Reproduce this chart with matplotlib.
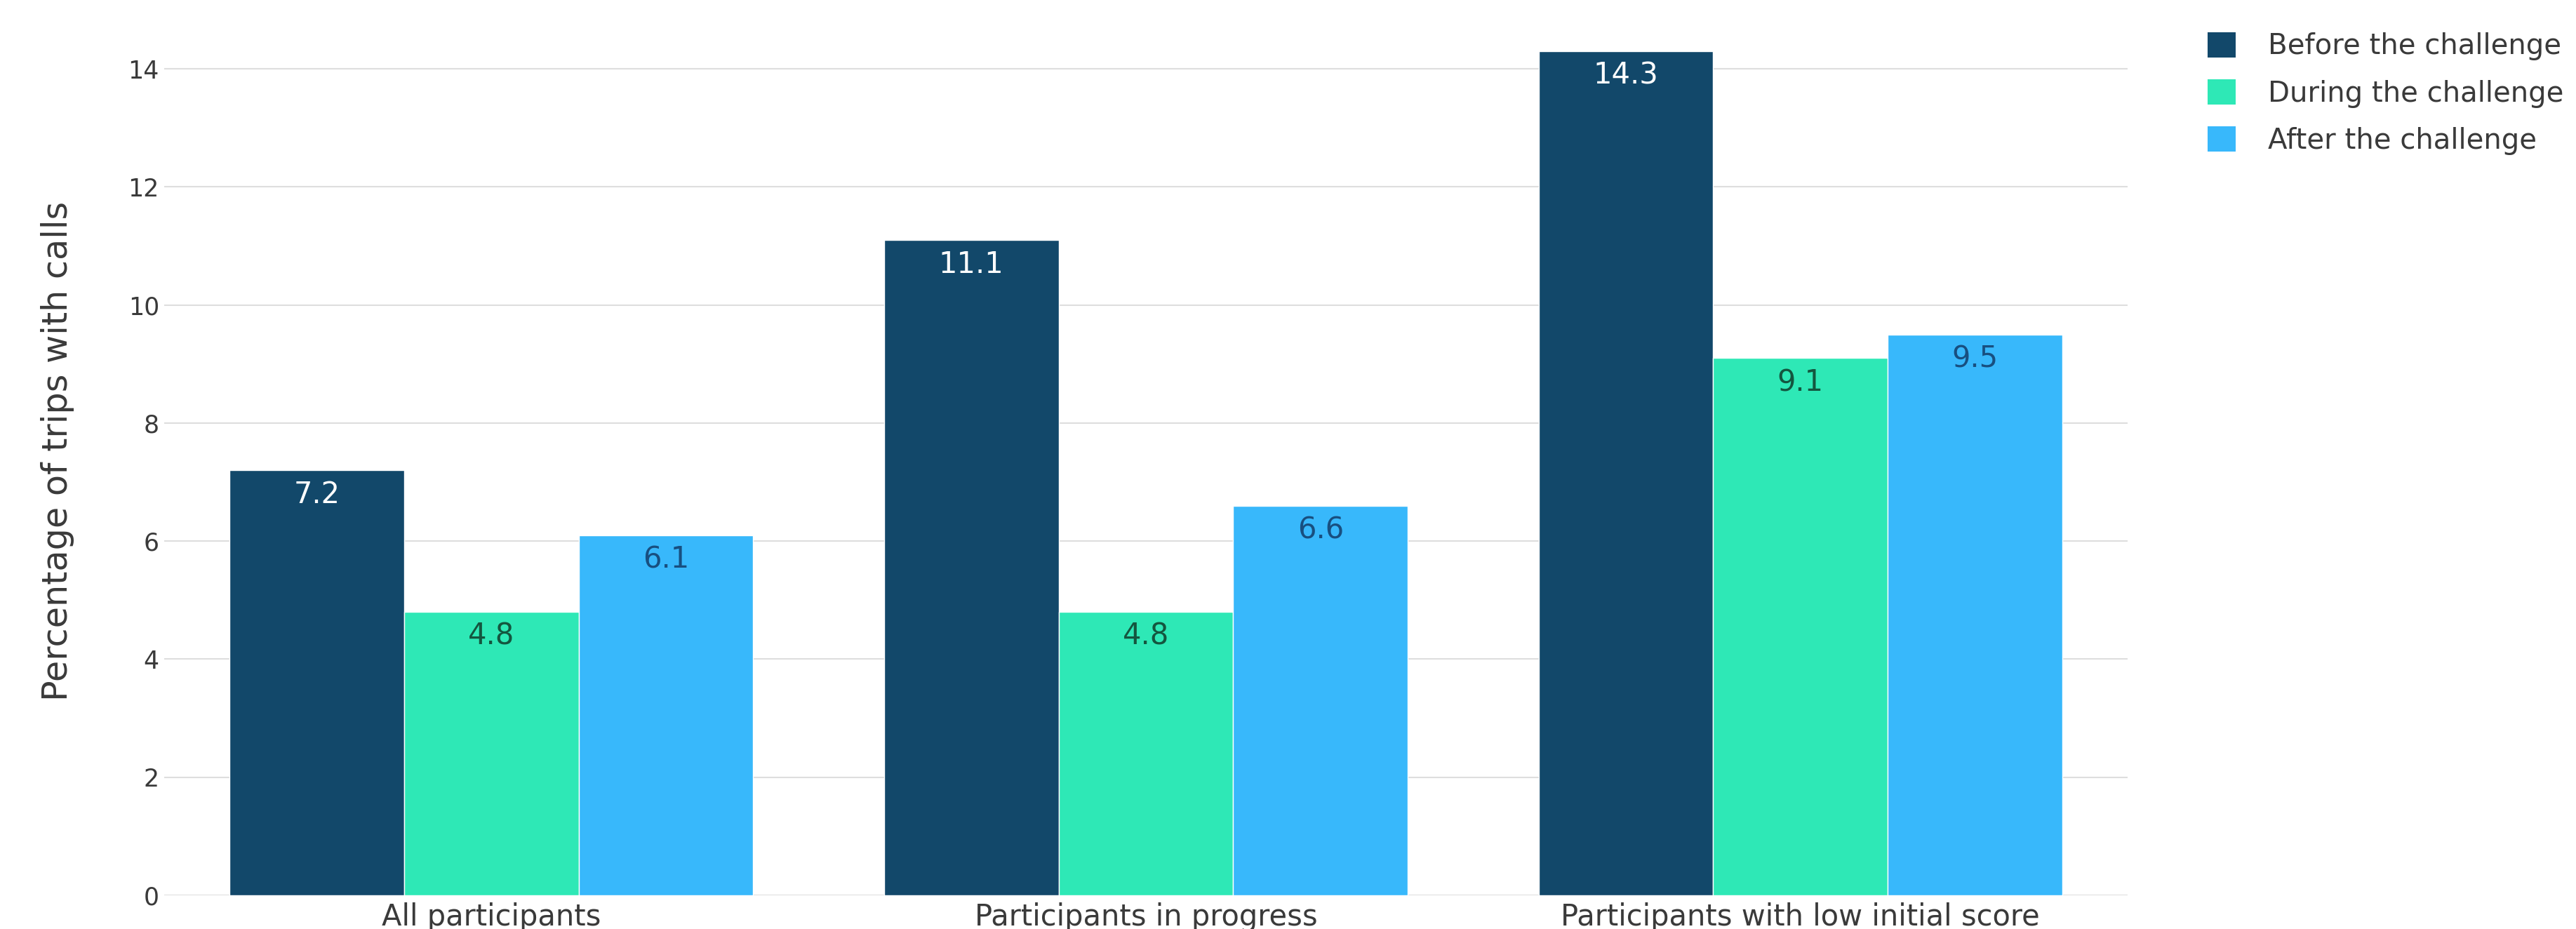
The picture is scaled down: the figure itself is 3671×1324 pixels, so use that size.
import matplotlib.pyplot as plt
import numpy as np
from matplotlib.patches import Patch

# ---- data ----
groups = ["All participants", "Participants in progress", "Participants with low initial score"]
series_names = ["Before the challenge", "During the challenge", "After the challenge"]
before = [7.2, 11.1, 14.3]
during = [4.8, 4.8, 9.1]
after = [6.1, 6.6, 9.5]
y_ticks = [0, 2, 4, 6, 8, 10, 12, 14]

bar_colors = ["#12486a", "#2ee8b6", "#38b8fb"]
text_colors = ["#ffffff", "#14563f", "#184f80"]
grid_color = "#dedede"
label_color = "#3a3a3a"

plt.rcParams.update({"font.family": "DejaVu Sans"})

fig = plt.figure(figsize=(36.71, 13.24), dpi=100)
ax = fig.add_axes([0.0637, 0.0363, 0.826 - 0.0637, 0.9925 - 0.0363])

x = np.arange(len(groups))
bar_w = 0.8 / 3
values = [before, during, after]

for i, (vals, name) in enumerate(zip(values, series_names)):
    xs = x + (i - 1) * bar_w
    bars = ax.bar(xs, vals, width=bar_w, color=bar_colors[i], edgecolor="white",
                  linewidth=1.0, label=name, zorder=2)
    # value labels sit just inside the top of each bar
    for b, v in zip(bars, vals):
        ax.annotate(f"{v:.1f}", xy=(b.get_x() + b.get_width() / 2, v),
                    xytext=(0, -25), textcoords="offset points",
                    ha="center", va="center", fontsize=30, color=text_colors[i], zorder=3)

ax.set_xlim(-0.5, 2.5)
ax.set_ylim(0, 15.05)
ax.set_yticks(y_ticks)
ax.set_yticklabels([str(t) for t in y_ticks])
ax.set_xticks(x)
ax.set_xticklabels(groups)
ax.tick_params(axis="y", length=0, pad=5, labelsize=25, labelcolor=label_color)
ax.tick_params(axis="x", length=0, pad=7, labelsize=30, labelcolor=label_color)

ax.yaxis.grid(True, color=grid_color, linewidth=1.5, zorder=0)
ax.set_axisbelow(True)
for spine in ax.spines.values():
    spine.set_visible(False)

ax.set_ylabel("Percentage of trips with calls", fontsize=35.5, color=label_color, labelpad=55)

handles = [Patch(facecolor=c, edgecolor="none") for c in bar_colors]
fig.legend(handles, series_names, loc="upper left", bbox_to_anchor=(0.847, 0.993),
           frameon=False, fontsize=29, handlelength=1.0, handleheight=1.0,
           handletextpad=1.15, labelspacing=0.66, labelcolor=label_color)

fig.savefig("out.png", dpi=100, facecolor="white")
